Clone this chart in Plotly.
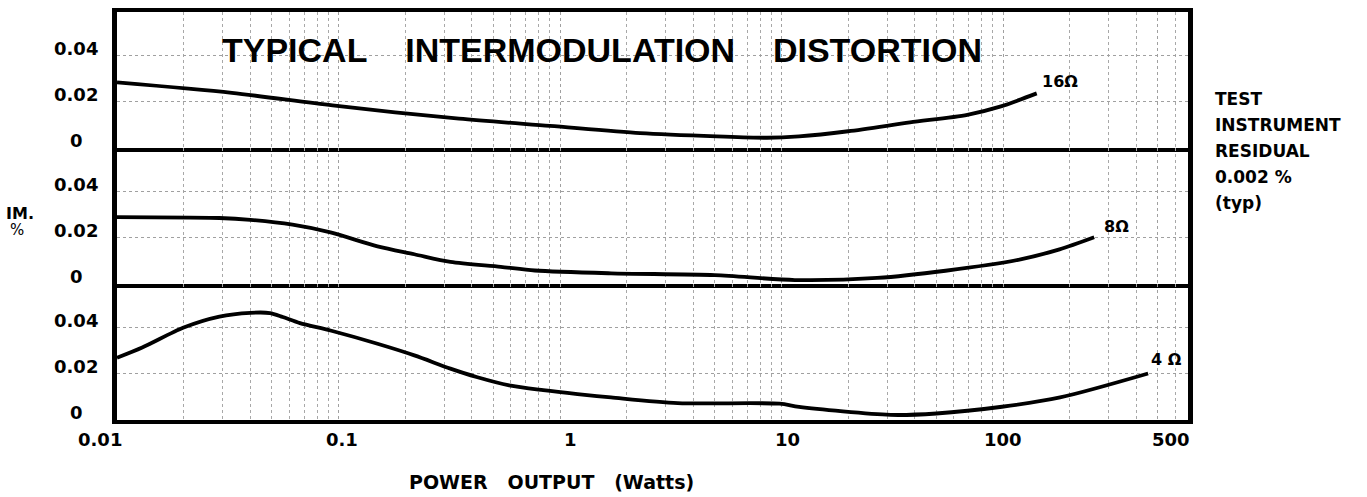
import math
import plotly.graph_objects as go
from plotly.subplots import make_subplots

# ---------------- data ----------------
watts_16 = [0.01, 0.033, 0.094, 0.35, 0.9, 2.3, 5.1, 8.6, 12, 20, 38, 69, 97, 142]
im_16 = [0.0282, 0.0237, 0.0183, 0.0126, 0.0095, 0.0064, 0.0050, 0.0044, 0.0050,
         0.0072, 0.0110, 0.0143, 0.0178, 0.0235]

watts_8 = [0.01, 0.029, 0.04, 0.062, 0.092, 0.15, 0.22, 0.32, 0.54, 0.77, 1.7, 5,
           11.5, 27, 55, 120, 180, 258]
im_8 = [0.0288, 0.0284, 0.0276, 0.0255, 0.0222, 0.0162, 0.0128, 0.0095, 0.0074,
        0.0058, 0.0046, 0.0038, 0.0017, 0.0026, 0.0057, 0.0106, 0.0149, 0.0201]

watts_4 = [0.01, 0.013, 0.02, 0.029, 0.04, 0.049, 0.056, 0.067, 0.092, 0.15, 0.22,
           0.32, 0.42, 0.59, 0.84, 1.2, 1.7, 3.4, 9.8, 12, 31, 50, 99, 181, 452]
im_4 = [0.0268, 0.0312, 0.0398, 0.0445, 0.0461, 0.0460, 0.0443, 0.0417, 0.0385,
        0.0328, 0.0278, 0.0221, 0.0185, 0.0149, 0.0128, 0.0111, 0.0097, 0.0073,
        0.0070, 0.0056, 0.0022, 0.0028, 0.0057, 0.0097, 0.0200]

series_labels = ["16\u03a9", "8\u03a9", "4 \u03a9"]
x_tick_vals = [0.01, 0.1, 1, 10, 100, 500]
x_tick_text = ["0.01", "0.1", "1", "10", "100", "500"]
y_tick_vals = [0, 0.02, 0.04]
y_tick_text = ["0", "0.02", "0.04"]
side_note = ["TEST", "INSTRUMENT", "RESIDUAL", "0.002 %", "(typ)"]

# ---------------- figure ----------------
W, H = 1367, 497
ML, MR, MT, MB = 117, 179, 8, 77
PW, PH = W - ML - MR, H - MT - MB

def px_x(p):   # pixel -> paper x
    return (p - ML) / PW

def px_y(p):   # pixel -> paper y
    return (H - MB - p) / PH

LBL = dict(family="DejaVu Sans", size=18, color="black", weight="bold")

fig = make_subplots(rows=3, cols=1, shared_xaxes=True, vertical_spacing=0)

curves = [(watts_16, im_16), (watts_8, im_8), (watts_4, im_4)]
for i, (xs, ys) in enumerate(curves):
    fig.add_trace(go.Scatter(x=xs, y=ys, mode="lines",
                             line=dict(color="black", width=3.8, shape="spline", smoothing=0.8),
                             showlegend=False, hoverinfo="skip"), row=i + 1, col=1)

xmax_log = -2 + PW / 221.5
grid = dict(showgrid=True, gridcolor="#a0a0a0", gridwidth=1, griddash="dot")
for r in range(1, 4):
    fig.update_xaxes(type="log", range=[-2, xmax_log], tickvals=x_tick_vals,
                     showticklabels=False, ticks="", showline=True,
                     mirror=True if r == 1 else False,
                     linecolor="black", linewidth=3.5, zeroline=False,
                     minor=dict(dtick="D1", showgrid=True, gridcolor="#a8a8a8",
                                griddash="dot", gridwidth=1, ticks=""),
                     **grid, row=r, col=1)
    fig.update_yaxes(range=[0, 0.0585], tickvals=[0.02, 0.04], showticklabels=False,
                     ticks="", showline=True, mirror=True, linecolor="black",
                     linewidth=4.5, zeroline=False, **grid, row=r, col=1)

annotations = []
# y tick labels (centered, as in the original)
yrefs = ["y", "y2", "y3"]
for yr in yrefs:
    for v, t in zip(y_tick_vals, y_tick_text):
        annotations.append(dict(xref="paper", yref=yr, x=px_x(76), y=v, text=t,
                                showarrow=False, xanchor="center", yanchor="middle",
                                yshift=7 if v > 0 else 8, font=LBL))
# x tick labels
x_shifts = [-17, 3, 10, 6, 0, 13]
for v, t, s in zip(x_tick_vals, x_tick_text, x_shifts):
    annotations.append(dict(xref="x3", yref="paper", x=math.log10(v), y=px_y(440),
                            text=t, showarrow=False, xanchor="center", yanchor="middle",
                            xshift=s, font=LBL))
# series labels at the ends of the curves
lab_shift = [(3, 0), (8, -1), (1, 3)]
for i, ((xs, ys), lab) in enumerate(zip(curves, series_labels)):
    annotations.append(dict(xref=f"x{'' if i == 0 else i + 1}", yref=yrefs[i],
                            x=math.log10(xs[-1]), y=ys[-1], text=lab, showarrow=False,
                            xanchor="left", yanchor="bottom", xshift=lab_shift[i][0],
                            yshift=lab_shift[i][1],
                            font=dict(family="DejaVu Sans", size=16, color="black", weight="bold")))
# title
nb = "\u00a0" * 4
annotations.append(dict(xref="paper", yref="paper", x=px_x(602), y=px_y(46),
                        text=f"TYPICAL{nb}INTERMODULATION{nb}DISTORTION", showarrow=False,
                        xanchor="center", yanchor="middle",
                        font=dict(family="Liberation Sans", size=34, color="black", weight="bold")))
# axis titles
sp = "\u00a0" * 3
annotations.append(dict(xref="paper", yref="paper", x=px_x(551), y=px_y(483),
                        text=f"POWER{sp}OUTPUT{sp}(Watts)", showarrow=False,
                        xanchor="center", yanchor="middle",
                        font=dict(family="DejaVu Sans", size=19, color="black", weight="bold")))
annotations.append(dict(xref="paper", yref="paper", x=px_x(20), y=px_y(211), text="IM.",
                        showarrow=False, xanchor="center", yanchor="middle",
                        font=dict(family="DejaVu Sans", size=16, color="black", weight="bold")))
annotations.append(dict(xref="paper", yref="paper", x=px_x(17), y=px_y(228), text="%",
                        showarrow=False, xanchor="center", yanchor="middle",
                        font=dict(family="DejaVu Sans", size=15, color="black")))
# side note
for k, line in enumerate(side_note):
    annotations.append(dict(xref="paper", yref="paper", x=px_x(1213), y=px_y(96 + 26.3 * k),
                            text=line, showarrow=False, xanchor="left", yanchor="middle",
                            font=dict(family="DejaVu Sans", size=17, color="black", weight="bold")))

fig.update_layout(width=W, height=H, margin=dict(l=ML, r=MR, t=MT, b=MB),
                  paper_bgcolor="white", plot_bgcolor="white",
                  annotations=annotations, showlegend=False)

fig.write_html("out.html", config={"displayModeBar": False},
               post_script="document.body.style.margin='0';document.body.style.overflow='hidden';")
